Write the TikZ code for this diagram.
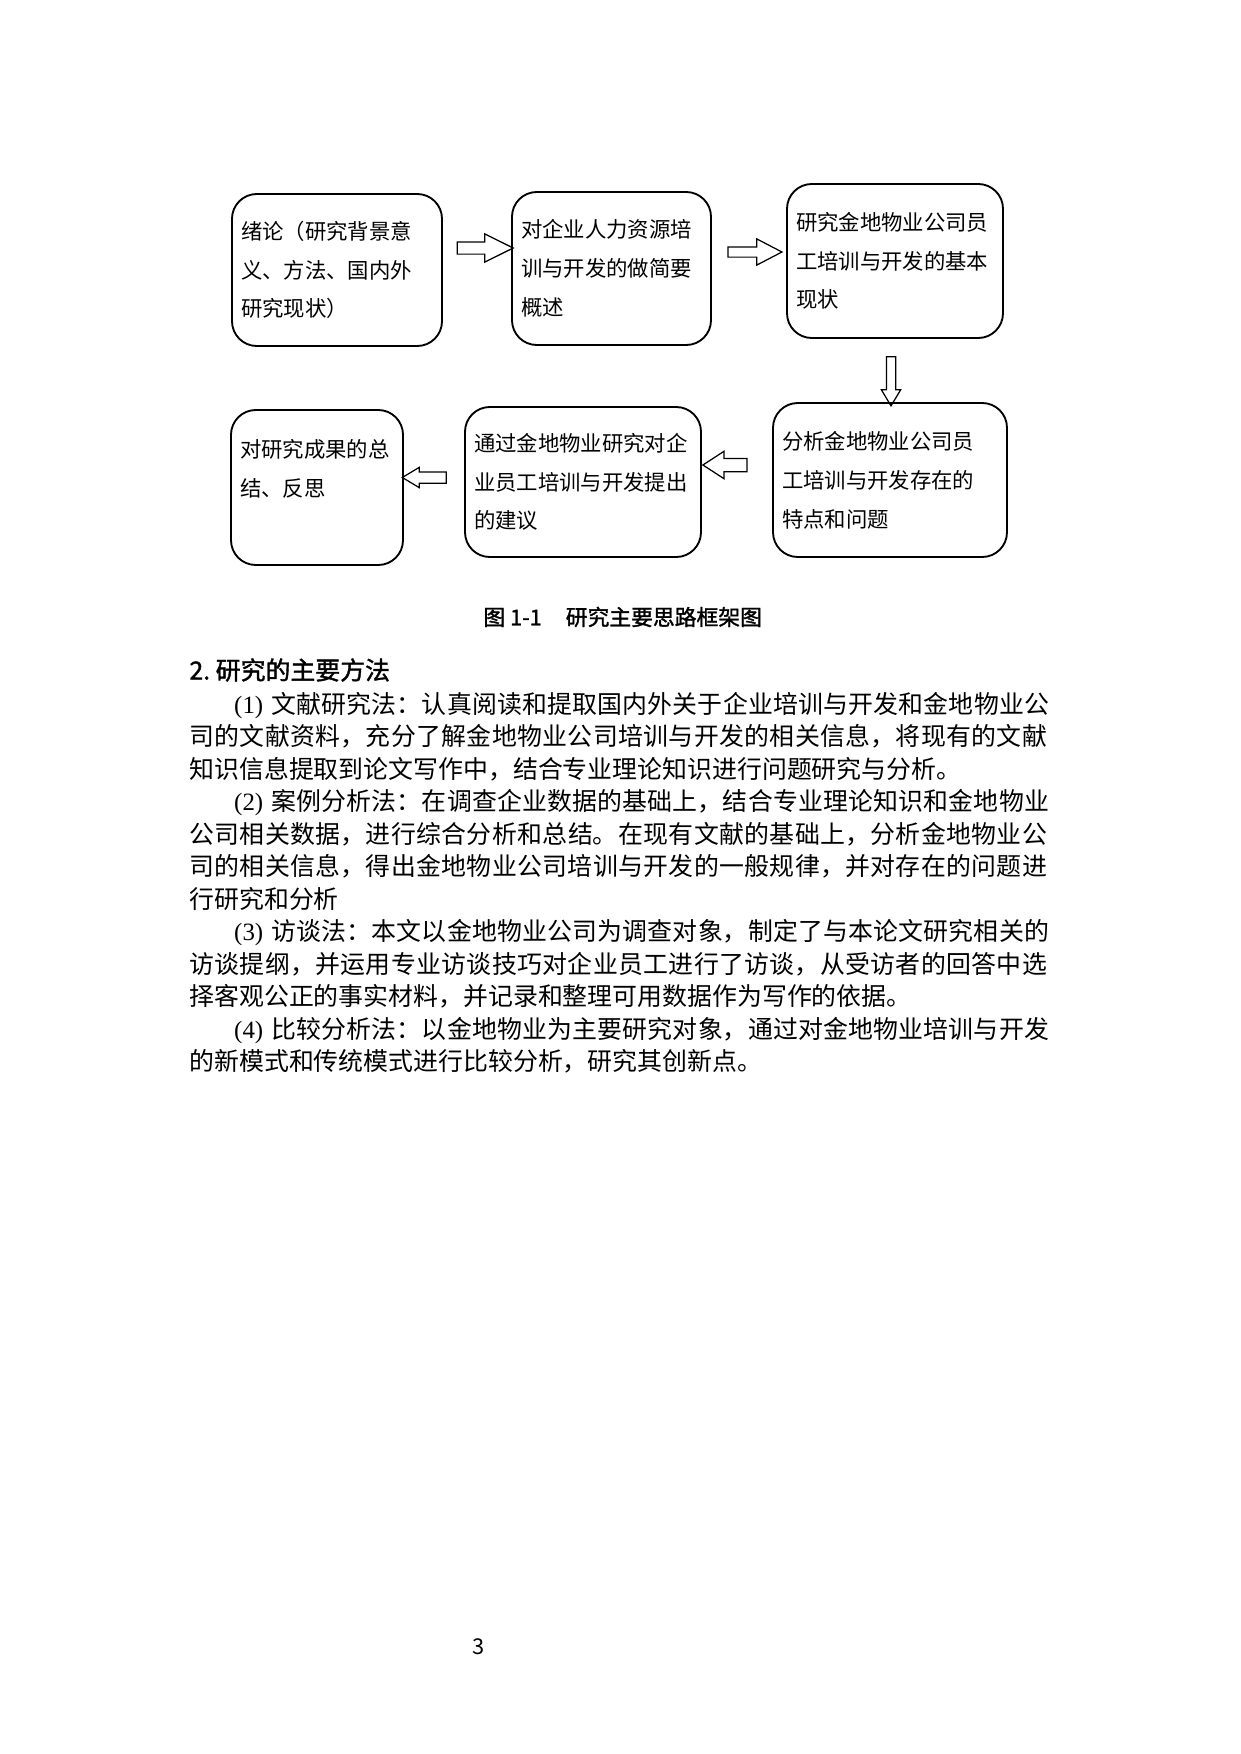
\documentclass[tikz,border=0pt]{standalone}
\usepackage{fontspec}
\setmainfont{Noto Sans CJK SC}
\newfontfamily\tnr{Liberation Serif}
\newfontfamily\heiti[FakeBold=1.5]{Noto Sans CJK SC}
\usetikzlibrary{shapes.arrows}
\XeTeXlinebreaklocale "zh"
\XeTeXlinebreakskip=0pt plus 2pt
\newcommand\pxu{0.016935cm}

\begin{document}
\begin{tikzpicture}[x=0.016935cm, y=-0.016935cm,
	stage/.style n args={2}{rectangle, rounded corners=0.42cm, draw, line width=0.9pt,
		inner sep=0pt, align=left, minimum width={#1*\pxu}, minimum height={#2*\pxu},
		text width={(#1-18)*\pxu}, font=\fontsize{10.3pt}{18.7pt}\selectfont},
	fatarrow/.style n args={4}{single arrow, draw, line width=0.6pt,
		inner xsep=0pt, inner ysep={#2*\pxu/2}, minimum height={#1*\pxu},
		single arrow head extend={#3*\pxu}, single arrow tip angle=#4}]
		
		\useasboundingbox (0,0) rectangle (1240,1754);
		
		% Boxes, first row
		
		\node[stage={210}{152}] 
		(introNode) at (337,270) {绪论（研究背景意\\义、方法、国内外\\研究现状）};
		
		\node[stage={199}{153}] 
		(reviewNode) at (611.5,268.5) {对企业人力资源培\\训与开发的做简要\\概述};
		
		\node[stage={216}{154}] 
		(statusNode) at (895,261) {研究金地物业公司员\\工培训与开发的基本\\现状};
		
		% Boxes, second row
		
		\node[stage={234}{154}] 
		(analysisNode) at (890,480) {分析金地物业公司员\\工培训与开发存在的\\特点和问题};
		
		\node[stage={236}{150}] 
		(adviceNode) at (583,482) {通过金地物业研究对企\\业员工培训与开发提出\\的建议};
		
		\node[stage={172}{155}] 
		(summaryNode) at (317,487.5) {对研究成果的总\\结、反思\\\mbox{}};
		
		% Block arrows
		
		\node[fatarrow={56}{11}{8}{53}] (arrow1) at (479,248) {};
		
		\node[fatarrow={54}{9}{8}{55}] (arrow2) at (750,252) {};
		
		\node[fatarrow={49}{8}{5}{62}, rotate=-90] (arrow3) at (891,377.5) {};
		
		\node[fatarrow={44}{12}{7}{66}, rotate=180] (arrow4) at (730,465) {};
		
		\node[fatarrow={44}{10}{4.5}{62}, rotate=180] (arrow5) at (429,477.5) {};
		
		% Caption and text
		
		\node[anchor=west, font=\fontsize{10.5pt}{12pt}\selectfont\heiti, inner sep=0pt] 
		(caption) at (483,617) {图 1-1\hspace{1.1em}研究主要思路框架图};
		
		\node[anchor=west, font=\fontsize{12pt}{15pt}\selectfont\heiti, inner sep=0pt] 
		(methodTitle) at (189,670) {2.~研究的主要方法};
		
		\node[anchor=base west, inner sep=0pt, text width={862*\pxu}, 
		font=\fontsize{12pt}{15.65pt}\selectfont] 
		(methodText) at (189,713.5) {%
			\hspace*{1.8em}{\tnr (1)} 文献研究法：认真阅读和提取国内外关于企业培训与开发和金地物业公\linebreak 
			司的文献资料，充分了解金地物业公司培训与开发的相关信息，将现有的文献\linebreak 
			知识信息提取到论文写作中，结合专业理论知识进行问题研究与分析。\par
			\hspace*{1.8em}{\tnr (2)} 案例分析法：在调查企业数据的基础上，结合专业理论知识和金地物业\linebreak 
			公司相关数据，进行综合分析和总结。在现有文献的基础上，分析金地物业公\linebreak 
			司的相关信息，得出金地物业公司培训与开发的一般规律，并对存在的问题进\linebreak 
			行研究和分析\par
			\hspace*{1.8em}{\tnr (3)} 访谈法：本文以金地物业公司为调查对象，制定了与本论文研究相关的\linebreak 
			访谈提纲，并运用专业访谈技巧对企业员工进行了访谈，从受访者的回答中选\linebreak 
			择客观公正的事实材料，并记录和整理可用数据作为写作的依据。\par
			\hspace*{1.8em}{\tnr (4)} 比较分析法：以金地物业为主要研究对象，通过对金地物业培训与开发\linebreak 
			的新模式和传统模式进行比较分析，研究其创新点。};
		
		\node[font=\fontsize{10.5pt}{12pt}\selectfont, inner sep=0pt] 
		(pageNum) at (479,1647) {3};
		
	\end{tikzpicture}
\end{document}
